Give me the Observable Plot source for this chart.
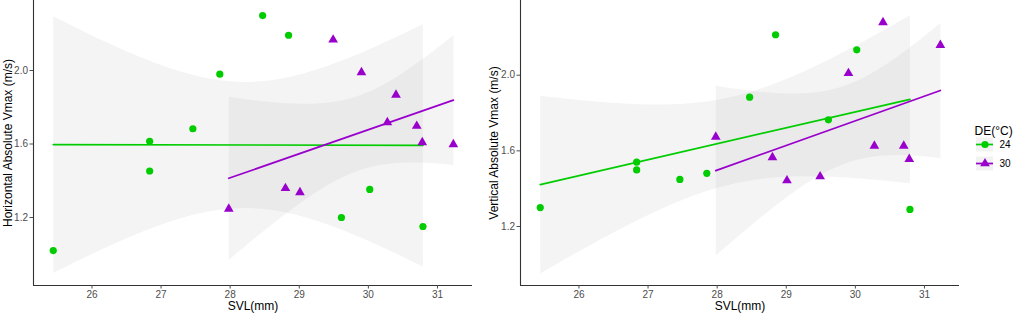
<!DOCTYPE html>
<html><head><meta charset="utf-8">
<script src="https://cdn.jsdelivr.net/npm/d3@7"></script>
<script src="https://cdn.jsdelivr.net/npm/@observablehq/plot@0.6"></script>
<style>
body{margin:0;background:#fff;font-family:"Liberation Sans",Arial,sans-serif;}
#wrap{position:relative;width:1024px;height:317px;overflow:hidden;background:#fff}
#wrap > *{position:absolute;top:0}
</style></head><body><div id="wrap"></div>
<script>
// ---- data ----
const groups = ["24", "30"];
const groupColors = ["#00cc00", "#9900cc"];
const groupSymbols = ["circle", "triangle"];
const legendTitle = "DE(°C)";

const svl24 = [25.44, 26.835, 26.835, 27.46, 27.85, 28.47, 28.845, 29.61, 30.02, 30.79];
const horiz24 = [1.02, 1.615, 1.453, 1.683, 1.98, 2.299, 2.192, 1.20, 1.353, 1.151];
const vert24 = [1.30, 1.540, 1.499, 1.449, 1.481, 1.884, 2.214, 1.764, 2.134, 1.29];

const svl30 = [27.98, 28.80, 29.01, 29.49, 29.90, 30.275, 30.40, 30.70, 30.78, 31.23];
const horiz30 = [1.247, 1.359, 1.337, 2.167, 1.99, 1.718, 1.867, 1.698, 1.609, 1.598];
const vert30 = [1.674, 1.565, 1.443, 1.464, 2.01, 1.626, 2.279, 1.626, 1.556, 2.159];

const xTicks = [26, 27, 28, 29, 30, 31];
const yTicks = [1.2, 1.6, 2.0];
const xDomain = [25.154, 31.507];
const yDomainH = [0.830, 2.381];
const yDomainV = [0.888, 2.395];
const xTitle = "SVL(mm)";
const yTitleH = "Horizontal Absolute Vmax (m/s)";
const yTitleV = "Vertical Absolute Vmax (m/s)";

// ---- build tables ----
function table(svlA, vA, g) { return svlA.map((s, i) => ({svl: s, v: vA[i], group: g})); }
const dataH = [...table(svl24, horiz24, "24"), ...table(svl30, horiz30, "30")];
const dataV = [...table(svl24, vert24, "24"), ...table(svl30, vert30, "30")];

const font = "'Liberation Sans', Arial, sans-serif";

function panel(data, yDomain, yTitle, opts) {
  const marks = [];
  groups.forEach((g, i) => {
    marks.push(Plot.linearRegressionY(data.filter(d => d.group === g), {
      x: "svl", y: "v", stroke: "none", fill: "#999999", fillOpacity: 0.11
    }));
  });
  groups.forEach((g, i) => {
    marks.push(Plot.linearRegressionY(data.filter(d => d.group === g), {
      x: "svl", y: "v", stroke: groupColors[i], strokeWidth: 1.7, fill: "none"
    }));
  });
  marks.push(Plot.dot(data, {x: "svl", y: "v", fill: "group", symbol: "group", r: 3.6, stroke: "none"}));
  marks.push(Plot.ruleX([xDomain[0]], {stroke: "#333", strokeWidth: 1.1}));
  marks.push(Plot.ruleY([yDomain[0]], {stroke: "#333", strokeWidth: 1.1}));
  marks.push(Plot.axisX({ticks: xTicks, tickFormat: d3.format("d"), tickSize: 3.5, tickPadding: 2, label: null, fontSize: 10, color: "#4d4d4d"}));
  marks.push(Plot.axisY({ticks: yTicks, tickFormat: d3.format(".1f"), tickSize: 3.5, tickPadding: 2, label: null, fontSize: 10, color: "#4d4d4d"}));
  marks.push(Plot.text([xTitle], {frameAnchor: "bottom", dy: 24.5, fontSize: 12, fill: "#000"}));
  marks.push(Plot.text([yTitle], {frameAnchor: "left", textAnchor: "middle", rotate: -90, dx: opts.yTitleDx, fontSize: 12, fill: "#000"}));
  return Plot.plot({
    width: opts.width, height: 317,
    marginLeft: opts.marginLeft, marginRight: opts.marginRight, marginTop: 0, marginBottom: 32,
    style: {fontFamily: font, background: "transparent", overflow: "visible"},
    x: {domain: xDomain},
    y: {domain: yDomain},
    color: {domain: groups, range: groupColors},
    symbol: {domain: groups, range: groupSymbols},
    marks
  });
}

const wrap = document.getElementById("wrap");
const p1 = panel(dataH, yDomainH, yTitleH, {width: 472, marginLeft: 33, marginRight: 0, yTitleDx: -25.5});
p1.style.left = "0px";
wrap.appendChild(p1);

const p2 = panel(dataV, yDomainV, yTitleV, {width: 498, marginLeft: 48, marginRight: 11, yTitleDx: -26.7});
p2.style.left = "472px";
wrap.appendChild(p2);

const legend = Plot.plot({
  width: 54, height: 60,
  marginLeft: 6, marginRight: 31, marginTop: 20, marginBottom: 2,
  style: {fontFamily: font, background: "transparent", overflow: "visible"},
  x: {domain: [0, 1], axis: null},
  y: {type: "point", domain: groups, padding: 0.5, axis: null},
  color: {domain: groups, range: groupColors},
  symbol: {domain: groups, range: groupSymbols},
  marks: [
    Plot.ruleY(groups, {y: d => d, stroke: "#999999", strokeOpacity: 0.13, strokeWidth: 14}),
    Plot.ruleY(groups, {y: d => d, stroke: d => d, strokeWidth: 1.7}),
    Plot.dot(groups, {y: d => d, fill: d => d, symbol: d => d, r: 3.6, frameAnchor: "middle"}),
    Plot.axisY({anchor: "right", tickSize: 0, tickPadding: 6, fontSize: 10, color: "#000", label: null}),
    Plot.text([legendTitle], {frameAnchor: "top-left", textAnchor: "start", dx: -2, dy: -8.5, fontSize: 12, fill: "#000"})
  ]
});
legend.style.left = "970px";
legend.style.top = "114px";
wrap.appendChild(legend);
</script></body></html>
